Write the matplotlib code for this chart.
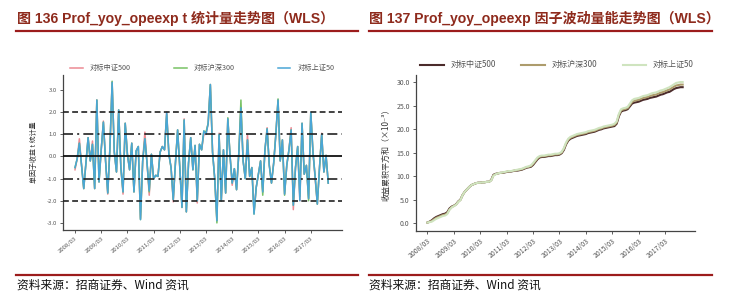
import matplotlib
matplotlib.use("Agg")
import matplotlib.pyplot as plt
from matplotlib.lines import Line2D

plt.rcParams['font.family'] = ['Noto Sans CJK SC', 'DejaVu Sans']

# ---------------- data ----------------
tick_labels = ["2008/03", "2009/03", "2010/03", "2011/03", "2012/03",
               "2013/03", "2014/03", "2015/03", "2016/03", "2017/03"]
series_names = ["对标中证500", "对标沪深300", "对标上证50"]

# left: single-factor t statistic (monthly, 2008/03 - 2017/11)
t_sz50 = [-0.5, -0.1, 0.6, -0.4, -1.45, -0.3, 0.85, -0.2, 0.55, -1.45,
          2.55, -1.15, 0.3, 1.55, -0.2, -1.65, 0.4, 3.35, 0.2, -0.7,
          2.1, -0.5, -1.6, 1.5, 0.1, -0.6, 0.6, -1.6, 0.25, 0.45,
          -2.85, -0.2, 0.8, -0.3, -1.55, 0.1, -1.0, -0.85, -0.9, 0.2,
          0.45, 0.3, 2.0, 0.1, -0.5, -1.95, -0.3, 1.2, -0.5, -2.3,
          1.65, -2.5, -0.3, 0.85, -0.6, 0.5, -2.0, 0.55, 0.3, 1.15,
          1.0, 1.5, 3.25, 0.2, -1.0, -2.9, 1.0, -2.0, 0.3, -1.65,
          1.7, 0.05, -1.2, -0.55, -1.5, 0.1, 2.2, -0.2, -1.0, 0.75,
          -0.9, -0.5, -2.6, -1.4, -0.8, -0.2, -1.6, 0.3, 1.25, -0.4,
          -1.2, -0.3, 1.0, 2.55, -0.2, 0.75, -1.7, -0.4, 0.3, 1.2,
          -2.2, -0.5, 0.45, -2.0, 1.5, -0.8, -0.4, -1.9, 2.0, 0.2,
          -0.9, -2.15, -0.5, 1.0, -0.7, 0.05, -1.2]
t_zz500 = [-0.6, -0.1, 0.8, -0.4, -1.45, -0.3, 0.85, -0.2, 0.7, -1.45,
           2.55, -1.15, 0.3, 1.6, -0.2, -1.7, 0.4, 3.35, 0.2, -0.7,
           2.1, -0.5, -1.7, 1.5, 0.1, -0.6, 0.6, -1.6, 0.25, 0.45,
           -2.8, -0.2, 1.1, -0.3, -1.75, 0.1, -1.0, -0.85, -0.9, 0.2,
           0.45, 0.3, 2.0, 0.1, -0.5, -2.05, -0.3, 1.2, -0.5, -2.3,
           1.7, -2.5, -0.3, 0.85, -0.6, 0.5, -2.1, 0.55, 0.3, 1.0,
           1.0, 1.5, 3.25, 0.2, -1.0, -2.9, 1.05, -2.0, 0.3, -1.65,
           1.7, 0.05, -1.3, -0.55, -1.5, 0.1, 2.2, -0.2, -1.0, 1.0,
           -0.9, -0.5, -2.5, -1.4, -0.8, -0.2, -1.6, 0.3, 1.3, -0.4,
           -1.2, -0.3, 1.0, 2.55, -0.2, 0.75, -1.7, -0.4, 0.3, 1.3,
           -2.4, -0.5, 0.45, -2.0, 1.5, -0.8, -0.4, -1.9, 2.0, 0.2,
           -1.0, -2.15, -0.5, 1.05, -0.7, 0.05, -1.2]
t_hs300 = [-0.5, -0.1, 0.6, -0.4, -1.45, -0.3, 0.85, -0.2, 0.55, -1.45,
           2.55, -1.15, 0.3, 1.55, -0.2, -1.65, 0.4, 3.4, 0.2, -0.7,
           2.1, -0.5, -1.6, 1.5, 0.1, -0.6, 0.6, -1.6, 0.25, 0.45,
           -2.85, -0.2, 0.8, -0.3, -1.6, 0.1, -1.0, -0.85, -0.9, 0.2,
           0.45, 0.3, 1.9, 0.1, -0.5, -1.95, -0.3, 1.2, -0.5, -2.3,
           1.65, -2.5, -0.3, 0.85, -0.6, 0.5, -2.0, 0.55, 0.3, 1.15,
           1.1, 1.5, 3.25, 0.2, -1.0, -3.0, 1.0, -2.0, 0.3, -1.65,
           1.75, 0.05, -1.2, -0.55, -1.5, 0.1, 2.55, -0.2, -1.0, 0.75,
           -0.9, -0.5, -2.6, -1.4, -0.8, -0.2, -1.75, 0.3, 1.25, -0.4,
           -1.2, -0.3, 1.0, 2.6, -0.2, 0.75, -1.75, -0.4, 0.3, 1.2,
           -2.2, -0.5, 0.45, -1.8, 1.5, -0.8, -0.4, -2.0, 2.0, 0.2,
           -0.9, -2.15, -0.5, 1.0, -0.7, 0.05, -1.2]

# right: cumulative sum of squared returns (x1e-3)
c_zz500 = [0.1, 0.3, 0.6, 1.0, 1.3, 1.5, 1.7, 1.9, 2.0, 2.3,
           3.1, 3.5, 3.7, 4.0, 4.6, 5.0, 6.0, 6.7, 7.2, 7.7,
           8.1, 8.3, 8.5, 8.6, 8.6, 8.7, 8.7, 8.8, 8.8, 9.2,
           10.3, 10.5, 10.6, 10.7, 10.7, 10.8, 10.9, 11.0, 11.0, 11.1,
           11.2, 11.2, 11.3, 11.4, 11.6, 11.8, 11.9, 12.0, 12.4, 13.0,
           13.6, 14.0, 14.1, 14.1, 14.2, 14.3, 14.3, 14.4, 14.5, 14.5,
           14.6, 14.9, 15.6, 16.8, 17.6, 18.0, 18.2, 18.4, 18.6, 18.7,
           18.8, 18.9, 19.0, 19.2, 19.3, 19.4, 19.5, 19.7, 19.9, 20.0,
           20.2, 20.3, 20.4, 20.5, 20.6, 20.7, 21.2, 22.8, 23.8, 24.0,
           24.1, 24.3, 24.9, 25.5, 25.7, 25.8, 25.9, 26.1, 26.3, 26.4,
           26.5, 26.7, 26.8, 26.9, 27.0, 27.2, 27.4, 27.5, 27.7, 27.9,
           28.0, 28.3, 28.6, 28.8, 28.9, 29.0, 29.0]
c_hs300 = [0.1, 0.25, 0.45, 0.8, 1.1, 1.3, 1.5, 1.7, 1.8, 2.1,
           2.9, 3.4, 3.65, 3.95, 4.55, 4.95, 6.0, 6.7, 7.2, 7.7,
           8.1, 8.3, 8.5, 8.6, 8.6, 8.7, 8.7, 8.8, 8.8, 9.15,
           10.2, 10.45, 10.6, 10.7, 10.75, 10.85, 10.95, 11.05, 11.05, 11.15,
           11.25, 11.3, 11.4, 11.5, 11.7, 11.9, 12.0, 12.15, 12.6, 13.2,
           13.8, 14.15, 14.25, 14.25, 14.35, 14.45, 14.45, 14.55, 14.65, 14.65,
           14.75, 15.05, 15.8, 17.0, 17.8, 18.2, 18.4, 18.6, 18.8, 18.9,
           19.0, 19.1, 19.2, 19.4, 19.5, 19.6, 19.7, 19.9, 20.1, 20.2,
           20.4, 20.5, 20.6, 20.7, 20.8, 20.95, 21.45, 23.05, 24.05, 24.25,
           24.35, 24.55, 25.2, 25.85, 26.1, 26.2, 26.3, 26.5, 26.7, 26.8,
           26.9, 27.1, 27.25, 27.35, 27.45, 27.65, 27.85, 27.95, 28.15, 28.35,
           28.5, 28.8, 29.1, 29.35, 29.45, 29.55, 29.55]
c_sz50 = [0.1, 0.2, 0.3, 0.6, 0.9, 1.1, 1.3, 1.5, 1.6, 1.9,
          2.8, 3.3, 3.6, 3.9, 4.5, 4.9, 6.0, 6.7, 7.2, 7.7,
          8.1, 8.3, 8.5, 8.6, 8.6, 8.7, 8.7, 8.8, 8.8, 9.1,
          10.1, 10.4, 10.6, 10.7, 10.8, 10.9, 11.0, 11.1, 11.1, 11.2,
          11.3, 11.4, 11.5, 11.6, 11.8, 12.0, 12.1, 12.3, 12.8, 13.4,
          14.0, 14.3, 14.4, 14.4, 14.5, 14.6, 14.6, 14.7, 14.8, 14.8,
          14.9, 15.2, 16.0, 17.2, 18.0, 18.4, 18.6, 18.8, 19.0, 19.1,
          19.2, 19.3, 19.4, 19.6, 19.7, 19.8, 19.9, 20.1, 20.3, 20.4,
          20.6, 20.7, 20.8, 20.9, 21.0, 21.2, 21.7, 23.3, 24.3, 24.5,
          24.6, 24.8, 25.5, 26.2, 26.5, 26.6, 26.7, 26.9, 27.1, 27.2,
          27.3, 27.5, 27.7, 27.8, 27.9, 28.1, 28.3, 28.4, 28.6, 28.8,
          29.0, 29.3, 29.6, 29.9, 30.0, 30.1, 30.1]

left_colors = ["#ec8a93", "#78c265", "#4aa6d6"]
right_colors = ["#4b2b2b", "#ad9c6c", "#cfe4bf"]
title_color = "#8e2a1c"
rule_color = "#9c1c1c"
grey = "#555555"

W, H = 731, 295
fig = plt.figure(figsize=(W / 100, H / 100), dpi=100)
fig.patch.set_facecolor("white")

def fx(px):
    return px / W

def fy(py):
    return 1 - py / H

# ---------- titles, rules, sources ----------
lat_cjk = ['Liberation Sans', 'Noto Sans CJK SC']
fig.text(fx(17), fy(18), "图 136 Prof_yoy_opeexp t 统计量走势图（WLS）",
         family=lat_cjk, fontweight="bold", fontsize=10.1, color=title_color,
         ha="left", va="center")
fig.text(fx(369), fy(18), "图 137 Prof_yoy_opeexp 因子波动量能走势图（WLS）",
         family=lat_cjk, fontweight="bold", fontsize=10.1, color=title_color,
         ha="left", va="center")
for x0, x1 in [(16, 358), (369, 712)]:
    fig.add_artist(Line2D([fx(x0), fx(x1)], [fy(30.5), fy(30.5)], color=rule_color, lw=1.6))
    fig.add_artist(Line2D([fx(x0), fx(x1)], [fy(275), fy(275)], color=rule_color, lw=1.6))
fig.text(fx(17), fy(285), "资料来源：招商证券、Wind 资讯", fontsize=8.5, color="#111111",
         ha="left", va="center")
fig.text(fx(369), fy(285), "资料来源：招商证券、Wind 资讯", fontsize=8.5, color="#111111",
         ha="left", va="center")

def style_axes(ax, fs):
    for s in ["top", "right"]:
        ax.spines[s].set_visible(False)
    for s in ["left", "bottom"]:
        ax.spines[s].set_color("#444444")
        ax.spines[s].set_linewidth(0.9)
    ax.tick_params(axis="both", colors="#444444", labelcolor=grey, labelsize=fs,
                   length=2.5, width=0.6, pad=2)
    ax.set_facecolor("white")

# ---------- left chart ----------
axL = fig.add_axes([fx(63), fy(230), fx(342) - fx(63), fy(75) - fy(230)])
n = len(t_sz50)
xs = list(range(n))
for vals, c, name in zip([t_zz500, t_hs300, t_sz50], left_colors, series_names):
    axL.plot(xs, vals, color=c, lw=1.1, label=name, zorder=3)
axL.axhline(0, color="#111111", lw=1.3, zorder=4)
for v in (1, -1):
    axL.axhline(v, color="#222222", lw=1.2, ls=(0, (6, 2.5, 1.2, 2.5)), zorder=4)
for v in (2, -2):
    axL.axhline(v, color="#222222", lw=1.2, ls=(0, (3.5, 2)), zorder=4)
axL.set_xlim(-5.5, 122.3)
axL.set_ylim(-3.32, 3.68)
axL.set_yticks([3, 2, 1, 0, -1, -2, -3])
axL.set_yticklabels(["3.0", "2.0", "1.0", "0.0", "-1.0", "-2.0", "-3.0"])
axL.set_xticks(list(range(0, 120, 12)))
axL.set_xticklabels(tick_labels, rotation=40, ha="right", rotation_mode="anchor")
style_axes(axL, 4.3)
axL.set_ylabel("单因子收益 t 统计量", fontsize=5, color="#333333", labelpad=6)
axL.legend(loc="lower center", bbox_to_anchor=(0.5, 0.99), ncol=3, frameon=False,
           fontsize=5.2, handlelength=1.7, handletextpad=1.0, columnspacing=6.0,
           labelcolor=grey, borderaxespad=0.2)

# ---------- right chart ----------
axR = fig.add_axes([fx(416), fy(231), fx(695) - fx(416), fy(75) - fy(231)])
for vals, c, name in zip([c_zz500, c_hs300, c_sz50], right_colors, series_names):
    axR.plot(xs, vals, color=c, lw=1.5, label=name, zorder=3)
axR.set_xlim(-5.2, 121.6)
axR.set_ylim(-1.7, 31.6)
axR.set_yticks([0, 5, 10, 15, 20, 25, 30])
axR.set_yticklabels(["0.0", "5.0", "10.0", "15.0", "20.0", "25.0", "30.0"])
axR.set_xticks(list(range(0, 120, 12)))
axR.set_xticklabels(tick_labels, rotation=40, ha="right", rotation_mode="anchor")
style_axes(axR, 5)
axR.set_ylabel("收益累积平方和（×10⁻³）", fontsize=5.8, color="#333333", labelpad=4)
axR.legend(loc="lower center", bbox_to_anchor=(0.505, 1.0), ncol=3, frameon=False,
           fontsize=5.8, handlelength=2.9, handletextpad=0.8, columnspacing=3.2,
           labelcolor=grey, borderaxespad=0.3)

fig.savefig("out.png", dpi=100, facecolor="white")
